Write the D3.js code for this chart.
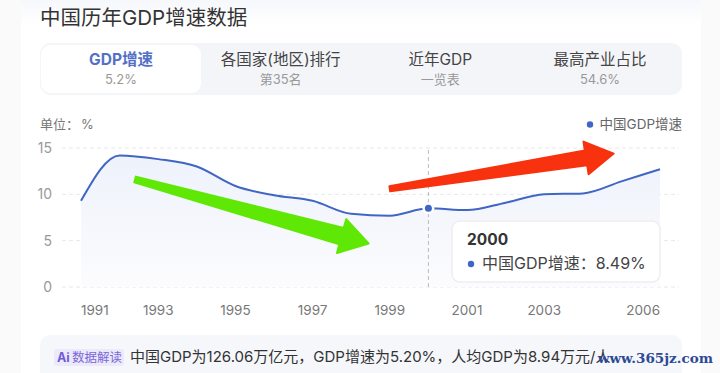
<!DOCTYPE html>
<html>
<head>
<meta charset="utf-8">
<script src="https://cdn.jsdelivr.net/npm/d3@7"></script>
<style>
  html, body { margin: 0; padding: 0; background: #fff; overflow: hidden; }
  text { font-family: Inter, "Noto Sans CJK SC", sans-serif; }
</style>
</head>
<body>
<svg id="chart" width="720" height="373"></svg>
<script>
const years = [1991, 1992, 1993, 1994, 1995, 1996, 1997, 1998, 1999, 2000, 2001, 2002, 2003, 2004, 2005, 2006];
const growth = [9.3, 14.2, 13.8, 13.0, 10.9, 9.9, 9.3, 7.9, 7.7, 8.49, 8.3, 9.1, 10.0, 10.1, 11.4, 12.7];
const yearTicks = [1991, 1993, 1995, 1997, 1999, 2001, 2003, 2006];
const valueTicks = [0, 5, 10, 15];

const tabTitles = ["GDP增速", "各国家(地区)排行", "近年GDP", "最高产业占比"];
const tabSubs = ["5.2%", "第35名", "一览表", "54.6%"];

// hand drawn arrows on top of the screenshot, in year / value units
const greenArrow = { from: [1992.4, 11.6], to: [1998.45, 4.7] };
const redArrow = { from: [1999.0, 10.6], to: [2004.8, 14.4] };

const svg = d3.select("#chart");
const blue = "#3f66c4";

const x = d3.scaleLinear().domain([1991, 2006]).range([81, 660]);
const y = d3.scaleLinear().domain([0, 15]).range([287, 148]);

// --- Page background ---
svg.append("rect").attr("width", 720).attr("height", 373).attr("fill", "#fafafb");
const defs = svg.append("defs");
const cardGrad = defs.append("linearGradient").attr("id", "cardGrad")
  .attr("x1", 0).attr("x2", 0).attr("y1", 0).attr("y2", 1);
cardGrad.append("stop").attr("offset", 0).attr("stop-color", "#f4f6fb");
cardGrad.append("stop").attr("offset", 0.08).attr("stop-color", "#ffffff");
svg.append("rect").attr("x", 21).attr("y", -6).attr("width", 680).attr("height", 385)
  .attr("fill", "url(#cardGrad)");

svg.append("text").attr("x", 40).attr("y", 25)
  .attr("font-size", 20.5).attr("fill", "#333").text("中国历年GDP增速数据");

// --- Tabs ---
svg.append("rect").attr("x", 40).attr("y", 43).attr("width", 642).attr("height", 52)
  .attr("rx", 11).attr("fill", "#f4f5f9");
svg.append("rect").attr("x", 41).attr("y", 45).attr("width", 160).attr("height", 48)
  .attr("rx", 9).attr("fill", "#fff");

const tabX = d3.scalePoint().domain(tabTitles).range([121, 600]);
tabTitles.forEach((t, i) => {
  svg.append("text").attr("x", tabX(t)).attr("y", 65)
    .attr("text-anchor", "middle").attr("font-size", 15.5)
    .attr("font-weight", i === 0 ? 700 : 400)
    .attr("fill", i === 0 ? "#5470c6" : "#444").text(t);
  svg.append("text").attr("x", tabX(t)).attr("y", 84)
    .attr("text-anchor", "middle").attr("font-size", 13)
    .attr("fill", "#999").text(tabSubs[i]);
});

// --- Unit + legend ---
svg.append("text").attr("x", 40).attr("y", 129)
  .attr("font-size", 13).attr("fill", "#777").text("单位：");
svg.append("text").attr("x", 81).attr("y", 129)
  .attr("font-size", 13).attr("fill", "#777").text("%");
svg.append("circle").attr("cx", 590).attr("cy", 124.5).attr("r", 3.2).attr("fill", blue);
svg.append("text").attr("x", 682).attr("y", 129).attr("text-anchor", "end")
  .attr("font-size", 13.5).attr("fill", "#666").text("中国GDP增速");

// --- Grid + axes ---
svg.append("g").selectAll("line").data(valueTicks).join("line")
  .attr("x1", 62).attr("x2", 679)
  .attr("y1", d => y(d)).attr("y2", d => y(d))
  .attr("stroke", "#e8e8ec").attr("stroke-dasharray", "4 3");

svg.append("g").selectAll("text").data(valueTicks).join("text")
  .attr("x", 52).attr("y", d => y(d) + 5)
  .attr("text-anchor", "end").attr("font-size", 14).attr("fill", "#999")
  .text(d => d);

svg.append("g").selectAll("text").data(yearTicks).join("text")
  .attr("x", d => x(d))
  .attr("y", 315)
  .attr("text-anchor", d => d === 1991 ? "start" : d === 2006 ? "end" : "middle")
  .attr("font-size", 13.5).attr("fill", "#777")
  .text(d => d);

// --- Area + line ---
const areaGrad = defs.append("linearGradient").attr("id", "areaGrad")
  .attr("x1", 0).attr("x2", 0).attr("y1", 0).attr("y2", 1);
areaGrad.append("stop").attr("offset", 0).attr("stop-color", "#eef2fb");
areaGrad.append("stop").attr("offset", 1).attr("stop-color", "#fcfcfe");

const curve = d3.curveMonotoneX;
const rows = years.map((yr, i) => ({ yr, v: growth[i] }));
svg.append("path").datum(rows)
  .attr("fill", "url(#areaGrad)")
  .attr("d", d3.area().x(d => x(d.yr)).y0(y(0)).y1(d => y(d.v)).curve(curve));
svg.append("path").datum(rows)
  .attr("fill", "none").attr("stroke", blue).attr("stroke-width", 2)
  .attr("d", d3.line().x(d => x(d.yr)).y(d => y(d.v)).curve(curve));

// --- Hover marker for 2000 ---
const hoverYear = 2000;
const hoverValue = growth[years.indexOf(hoverYear)];
svg.append("line")
  .attr("x1", x(hoverYear)).attr("x2", x(hoverYear))
  .attr("y1", y(15) + 2).attr("y2", y(0))
  .attr("stroke", "#bbb").attr("stroke-dasharray", "4 3");
svg.append("circle").attr("cx", x(hoverYear)).attr("cy", y(hoverValue)).attr("r", 6).attr("fill", "#fff");
svg.append("circle").attr("cx", x(hoverYear)).attr("cy", y(hoverValue)).attr("r", 3.5).attr("fill", blue);

// tooltip
svg.append("rect").attr("x", 452).attr("y", 221).attr("width", 208).attr("height", 61)
  .attr("rx", 8).attr("fill", "#fff").attr("stroke", "#eeeef2").attr("stroke-width", 1.5);
svg.append("text").attr("x", 467).attr("y", 245)
  .attr("font-size", 15.5).attr("font-weight", 700).attr("fill", "#333").text(hoverYear);
svg.append("circle").attr("cx", 471).attr("cy", 264).attr("r", 3.2).attr("fill", blue);
svg.append("text").attr("x", 482).attr("y", 269)
  .attr("font-size", 16).attr("fill", "#444").text(`中国GDP增速：${hoverValue}%`);

// --- Arrows ---
function arrowPath(a, tailW, neckW, headW, headLen) {
  const x0 = x(a.from[0]), y0 = y(a.from[1]);
  const x1 = x(a.to[0]), y1 = y(a.to[1]);
  const len = Math.hypot(x1 - x0, y1 - y0);
  const ux = (x1 - x0) / len, uy = (y1 - y0) / len;
  const nx = -uy, ny = ux;
  const bx = x1 - ux * headLen, by = y1 - uy * headLen;
  const p = (px, py, w) => [px + nx * w / 2, py + ny * w / 2];
  return d3.line()([
    p(x0, y0, tailW), p(bx, by, neckW), p(bx, by, headW),
    [x1, y1],
    p(bx, by, -headW), p(bx, by, -neckW), p(x0, y0, -tailW)
  ]) + "Z";
}
svg.append("path").attr("d", arrowPath(greenArrow, 6, 17, 35, 28))
  .attr("fill", "#5fe805").attr("stroke", "#5fe805").attr("stroke-linejoin", "round").attr("stroke-width", 2);
svg.append("path").attr("d", arrowPath(redArrow, 5, 15, 33, 28))
  .attr("fill", "#f8310e").attr("stroke", "#f8310e").attr("stroke-linejoin", "round").attr("stroke-width", 2);

// --- Bottom note ---
svg.append("rect").attr("x", 40).attr("y", 335).attr("width", 642).attr("height", 50)
  .attr("rx", 10).attr("fill", "#f6f7fb");
svg.append("rect").attr("x", 54).attr("y", 349).attr("width", 70).attr("height", 17)
  .attr("rx", 3).attr("fill", "#ece9fb");
svg.append("text").attr("x", 57).attr("y", 362)
  .attr("font-size", 12.5).attr("font-weight", 700).attr("fill", "#6f5bd6").text("Ai");
svg.append("text").attr("x", 72).attr("y", 362)
  .attr("font-size", 12.5).attr("fill", "#7a68d8").text("数据解读");
svg.append("text").attr("x", 130).attr("y", 362)
  .attr("font-size", 15).attr("fill", "#333").text("中国GDP为126.06万亿元，GDP增速为5.20%，人均GDP为8.94万元/人");

// watermark
svg.append("text").attr("x", 713).attr("y", 363).attr("text-anchor", "end")
  .attr("font-size", 13.5)
  .attr("fill", "#2c4a96").style("font-family", "DejaVu Serif").style("font-weight", 700).text("www.365jz.com");
</script>
</body>
</html>
